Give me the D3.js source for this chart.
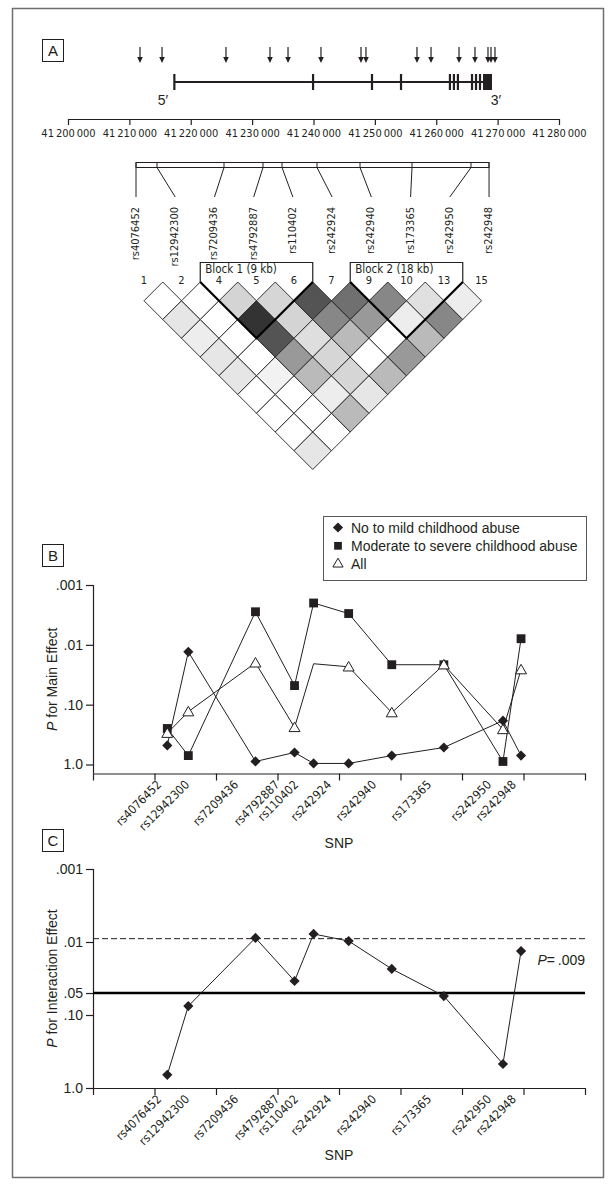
<!DOCTYPE html>
<html>
<head>
<meta charset="utf-8">
<script src="https://cdn.jsdelivr.net/npm/d3@7"></script>
<style>
  body { margin: 0; background: #fff; }
</style>
</head>
<body>
<div id="chart"></div>
<script>
// ---- data ----
const genomeTicks = d3.range(41200000, 41280001, 10000);
// tagged SNPs across the gene (arrows)
const arrowPos = [41211730, 41215320, 41225740, 41232910, 41235850, 41241220, 41247740, 41248550,
  41256860, 41259150, 41263710, 41266310, 41268430, 41268920, 41269570];
const geneStart = 41217300;
const geneEnd = 41269080;
const exonStart = [41217150, 41239750, 41249350, 41254080, 41262050, 41262700, 41263350, 41265650, 41266300, 41266950, 41267620];
const exonEnd = [41217450, 41240100, 41249700, 41254430, 41262400, 41263050, 41263700, 41266000, 41266650, 41267300, 41269080];

const snps = ["rs4076452", "rs12942300", "rs7209436", "rs4792887", "rs110402",
  "rs242924", "rs242940", "rs173365", "rs242950", "rs242948"];
const snpPos = [41211080, 41214500, 41225420, 41231770, 41234870, 41240570, 41247580, 41256050, 41265660, 41268600];
const snpLabelPos = [41210220, 41214770, 41222740, 41229410, 41232500, 41237860, 41245180, 41254120, 41263880, 41267940];

// pairwise LD (0-100), row i holds pairs (i, i+1..)
const ldNumbers = ["1", "2", "4", "5", "6", "7", "9", "10", "13", "15"];
const ldRows = [
  [0, 10, 7, 10, 10, 0, 0, 0, 10],
  [0, 0, 0, 0, 5, 0, 0, 0],
  [17, 80, 67, 40, 27, 7, 27],
  [16, 17, 13, 16, 16, 10],
  [67, 47, 27, 0, 27],
  [56, 40, 0, 40],
  [47, 7, 27],
  [12, 47],
  [7]
];
const blockNames = ["Block 1 (9 kb)", "Block 2 (18 kb)"];
const blockFirst = [2, 6];
const blockLast = [4, 8];

const seriesNames = ["No to mild childhood abuse", "Moderate to severe childhood abuse", "All"];
const pMild = [0.48, 0.0131, 0.89, 0.63, 0.96, 0.96, 0.71, 0.52, 0.185, 0.71];
const pSevere = [0.25, 0.71, 0.0028, 0.048, 0.0020, 0.0030, 0.0215, 0.0215, 0.89, 0.0079];
const pAll = [0.30, 0.131, 0.020, 0.24, 0.0207, 0.0233, 0.136, 0.0215, 0.26, 0.026];
const allMarkerMissing = ["rs110402"];
const pInteraction = [0.66, 0.0754, 0.0088, 0.0342, 0.00776, 0.0097, 0.0234, 0.055, 0.469, 0.0133];

const mainTicks = [1, 0.1, 0.01, 0.001];
const mainTickLabels = ["1.0", ".10", ".01", ".001"];
const interTicks = [1, 0.1, 0.05, 0.01, 0.001];
const interTickLabels = ["1.0", ".10", ".05", ".01", ".001"];
const nominalP = 0.05;
const correctedP = 0.009;

// ---- drawing ----
const SANS = '"Liberation Sans", Arial, Helvetica, sans-serif';
const NARROW = '"Liberation Sans Narrow", "Arial Narrow", "DejaVu Sans Condensed", sans-serif';
const INK = "#231f20";

const svg = d3.select("#chart").append("svg")
  .attr("width", 615).attr("height", 1186)
  .style("font-family", SANS)
  .attr("fill", INK);

svg.append("rect")
  .attr("x", 12.5).attr("y", 8.5).attr("width", 591).attr("height", 1169)
  .attr("fill", "none").attr("stroke", "#6d6e71").attr("stroke-width", 1.5);

function panelTag(letter, y) {
  svg.append("rect").attr("x", 42.5).attr("y", y + 0.5).attr("width", 21).attr("height", 22)
    .attr("fill", "none").attr("stroke", INK).attr("stroke-width", 1);
  svg.append("text").attr("x", 53).attr("y", y + 17).attr("text-anchor", "middle")
    .style("font-size", "15px").text(letter);
}
panelTag("A", 39);
panelTag("B", 544);
panelTag("C", 829);

// Panel A: gene map
const gx = d3.scaleLinear().domain([41200000, 41280000]).range([68, 559]);
const a = svg.append("g");

a.selectAll("line.arrow").data(arrowPos).join("line")
  .attr("class", "arrow")
  .attr("x1", d => gx(d)).attr("x2", d => gx(d))
  .attr("y1", 47).attr("y2", 58)
  .attr("stroke", INK).attr("stroke-width", 1.2);
a.selectAll("path.head").data(arrowPos).join("path")
  .attr("class", "head")
  .attr("d", d => `M${gx(d) - 2.8},57L${gx(d) + 2.8},57L${gx(d)},63Z`)
  .attr("fill", INK);

a.append("line")
  .attr("x1", gx(geneStart)).attr("x2", gx(geneEnd))
  .attr("y1", 82).attr("y2", 82)
  .attr("stroke", INK).attr("stroke-width", 2);
a.selectAll("rect.exon").data(exonStart).join("rect")
  .attr("class", "exon")
  .attr("x", d => gx(d))
  .attr("width", (d, i) => Math.max(2.2, gx(exonEnd[i]) - gx(d)))
  .attr("y", 74).attr("height", 16)
  .attr("fill", INK);

a.append("text").attr("x", 163).attr("y", 105).attr("text-anchor", "middle")
  .style("font-size", "14px").text("5\u2032");
a.append("text").attr("x", 496).attr("y", 105).attr("text-anchor", "middle")
  .style("font-size", "14px").text("3\u2032");

a.append("g")
  .attr("transform", "translate(0,119)")
  .call(d3.axisBottom(gx).tickValues(genomeTicks).tickSize(6).tickSizeOuter(0).tickPadding(4)
    .tickFormat(d => d3.format(",")(d).replace(/,/g, "\u2009")))
  .attr("font-family", NARROW).attr("font-size", 11).attr("color", INK)
  .call(g => g.selectAll("line, path").attr("stroke-width", 1.2));

// SNP bar and connectors
const barX0 = gx(snpPos[0]);
const barX1 = gx(snpPos[snpPos.length - 1]);
const lx = d3.scalePoint().domain(snps).range([barX0, barX1]);
a.append("rect")
  .attr("x", barX0).attr("y", 162.5).attr("width", barX1 - barX0).attr("height", 5)
  .attr("fill", "#fff").attr("stroke", INK).attr("stroke-width", 1);
a.selectAll("line.div").data(snpPos).join("line")
  .attr("class", "div")
  .attr("x1", d => gx(d)).attr("x2", d => gx(d))
  .attr("y1", 162.5).attr("y2", 167.5)
  .attr("stroke", INK);
a.selectAll("line.conn").data(snps).join("line")
  .attr("class", "conn")
  .attr("x1", (d, i) => gx(snpPos[i])).attr("x2", d => lx(d))
  .attr("y1", 167.5).attr("y2", 197)
  .attr("stroke", INK);
a.selectAll("text.snpA").data(snps).join("text")
  .attr("class", "snpA")
  .attr("transform", d => `translate(${lx(d) + 3},207) rotate(-90)`)
  .attr("text-anchor", "end")
  .style("font-family", NARROW).style("font-size", "11px")
  .text(d => d);

// LD triangle
const mx = d3.scalePoint().domain(d3.range(snps.length)).range([144, 481.5]);
const half = mx.step() / 2;
const ldTop = 282;
const shade = d3.scaleLinear().domain([0, 100]).range(["#ffffff", "#000000"]);
const cells = [];
ldRows.forEach((row, i) => row.forEach((v, k) => cells.push({ i, j: i + k + 1, v })));
const ld = svg.append("g");
ld.selectAll("path.cell").data(cells).join("path")
  .attr("class", "cell")
  .attr("d", c => {
    const cx = (mx(c.i) + mx(c.j)) / 2;
    const cy = ldTop + (c.j - c.i) * half;
    return `M${cx},${cy - half}L${cx + half},${cy}L${cx},${cy + half}L${cx - half},${cy}Z`;
  })
  .attr("fill", c => shade(c.v))
  .attr("stroke", INK).attr("stroke-width", 0.9);

ld.selectAll("text.num").data(ldNumbers).join("text")
  .attr("class", "num")
  .attr("x", (d, i) => mx(i)).attr("y", 284)
  .attr("text-anchor", "middle")
  .style("font-family", NARROW).style("font-size", "11px")
  .text(d => d);

blockNames.forEach((name, b) => {
  const x0 = mx(blockFirst[b]) - half;
  const x1 = mx(blockLast[b]) + half;
  const tipY = ldTop + (blockLast[b] - blockFirst[b] + 1) * half;
  ld.append("path")
    .attr("d", `M${x0},${ldTop}L${(x0 + x1) / 2},${tipY}L${x1},${ldTop}`)
    .attr("fill", "none").attr("stroke", "#000").attr("stroke-width", 2.2);
  ld.append("path")
    .attr("d", `M${x0},${ldTop}V262.5H${x1}V${ldTop}`)
    .attr("fill", "none").attr("stroke", INK).attr("stroke-width", 1.2);
  ld.append("text")
    .attr("x", x0 + 5).attr("y", 273)
    .style("font-family", NARROW).style("font-size", "11.5px")
    .text(name);
});

// Panels B and C
const px = d3.scaleLinear().domain([41199000, 41279000]).range([93, 585]);
const pxTicks = d3.range(41199000, 41279001, 10000);

function pPanel(top, one, axisY, ticks, tickLabels, titleRest, snpTitleY) {
  const g = svg.append("g");
  const y = d3.scaleLog().domain([1, 0.001]).range([one, top]);

  g.append("g")
    .attr("transform", `translate(0,${axisY})`)
    .call(d3.axisBottom(px).tickValues(pxTicks).tickSize(7).tickSizeOuter(0).tickFormat(""))
    .attr("color", INK)
    .call(ax => ax.selectAll("line, path").attr("stroke-width", 1.2));

  g.append("g")
    .attr("transform", "translate(93,0)")
    .call(d3.axisLeft(y).tickValues(ticks).tickSize(7).tickPadding(3)
      .tickFormat((d, i) => tickLabels[i]))
    .attr("font-family", SANS).attr("font-size", 14).attr("color", INK)
    .call(ax => ax.select(".domain").attr("d", `M0.5,${top}V${axisY}`))
    .call(ax => ax.selectAll("line, path").attr("stroke-width", 1.2));

  g.selectAll("text.snp").data(snps).join("text")
    .attr("class", "snp")
    .attr("transform", (d, i) => `translate(${px(snpLabelPos[i])},${axisY + 12}) rotate(-45)`)
    .attr("text-anchor", "end")
    .style("font-family", NARROW).style("font-size", "12px")
    .text(d => d);

  g.append("text")
    .attr("x", (93 + 585) / 2).attr("y", snpTitleY)
    .attr("text-anchor", "middle").style("font-size", "14px")
    .text("SNP");

  const t = g.append("text")
    .attr("transform", `translate(57,${(top + axisY) / 2}) rotate(-90)`)
    .attr("text-anchor", "middle").style("font-size", "14px");
  t.append("tspan").style("font-style", "italic").text("P");
  t.append("tspan").text(titleRest);

  return { g, y };
}

const diamond = d3.symbol(d3.symbolSquare, 52)();
const square = d3.symbol(d3.symbolSquare, 78)();
const triangle = d3.symbol(d3.symbolTriangle, 52)();

// B
const B = pPanel(585, 764.5, 773.5, mainTicks, mainTickLabels, " for Main Effect", 848);
const line = d3.line().x((d, i) => px(snpPos[i])).y(d => B.y(d));
[pMild, pSevere, pAll].forEach(series => {
  B.g.append("path").attr("d", line(series))
    .attr("fill", "none").attr("stroke", INK).attr("stroke-width", 1);
});
B.g.selectAll("path.mild").data(pMild).join("path")
  .attr("class", "mild")
  .attr("d", diamond)
  .attr("transform", (d, i) => `translate(${px(snpPos[i])},${B.y(d)}) rotate(45)`)
  .attr("fill", INK);
B.g.selectAll("path.severe").data(pSevere).join("path")
  .attr("class", "severe")
  .attr("d", square)
  .attr("transform", (d, i) => `translate(${px(snpPos[i])},${B.y(d)})`)
  .attr("fill", INK);
B.g.selectAll("path.all").data(pAll.filter((d, i) => !allMarkerMissing.includes(snps[i])))
  .join("path")
  .attr("class", "all")
  .attr("d", triangle)
  .attr("transform", d => {
    const i = pAll.indexOf(d);
    return `translate(${px(snpPos[i])},${B.y(d) + 1})`;
  })
  .attr("fill", "#fff").attr("stroke", INK).attr("stroke-width", 1);

// legend
const leg = B.g.append("g");
leg.append("rect")
  .attr("x", 323.5).attr("y", 516.5).attr("width", 263).attr("height", 64)
  .attr("fill", "#fff").attr("stroke", "#58595b").attr("stroke-width", 1);
const legMarks = [diamond, d3.symbol(d3.symbolSquare, 60)(), d3.symbol(d3.symbolTriangle, 45)()];
seriesNames.forEach((name, k) => {
  const cy = 527.5 + k * 18.3;
  leg.append("path").attr("d", legMarks[k])
    .attr("transform", `translate(338,${cy})${k === 0 ? " rotate(45)" : ""}`)
    .attr("fill", k === 2 ? "#fff" : INK)
    .attr("stroke", k === 2 ? INK : "none");
  leg.append("text")
    .attr("x", 351).attr("y", cy + 5)
    .style("font-size", "14px")
    .text(name);
});

// C
const C = pPanel(869, 1088, 1088, interTicks, interTickLabels, " for Interaction Effect", 1160);
C.g.append("line")
  .attr("x1", 93).attr("x2", 585)
  .attr("y1", C.y(correctedP)).attr("y2", C.y(correctedP))
  .attr("stroke", INK).attr("stroke-width", 1).attr("stroke-dasharray", "6,3");
C.g.append("line")
  .attr("x1", 93).attr("x2", 585)
  .attr("y1", C.y(nominalP)).attr("y2", C.y(nominalP))
  .attr("stroke", "#000").attr("stroke-width", 2.6);
const pt = C.g.append("text")
  .attr("x", 585).attr("y", 965).attr("text-anchor", "end").style("font-size", "14px");
pt.append("tspan").style("font-style", "italic").text("P");
pt.append("tspan").text("=\u2009.009");

const cline = d3.line().x((d, i) => px(snpPos[i])).y(d => C.y(d));
C.g.append("path").attr("d", cline(pInteraction))
  .attr("fill", "none").attr("stroke", INK).attr("stroke-width", 1);
C.g.selectAll("path.inter").data(pInteraction).join("path")
  .attr("class", "inter")
  .attr("d", diamond)
  .attr("transform", (d, i) => `translate(${px(snpPos[i])},${C.y(d)}) rotate(45)`)
  .attr("fill", INK);
</script>
</body>
</html>
